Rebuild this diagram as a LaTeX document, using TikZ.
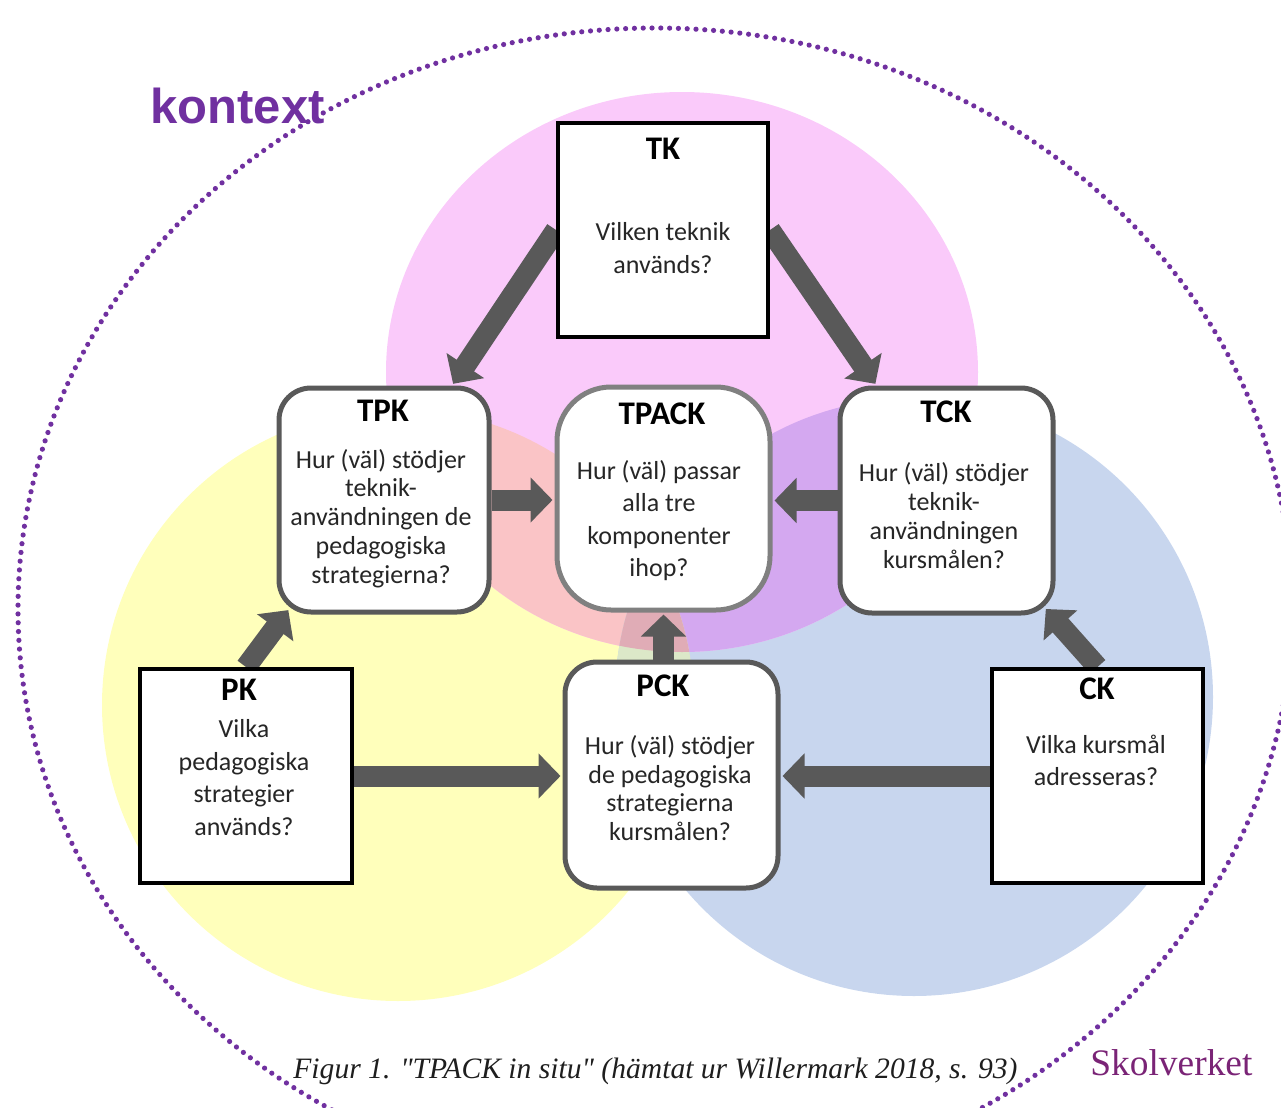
\documentclass[tikz,border=0pt]{standalone}
\usepackage{fontspec}
\setmainfont{Carlito}
\newfontfamily\serifcap{Liberation Serif}
\newfontfamily\sanskont{Liberation Sans}
\usetikzlibrary{arrows.meta,calc,backgrounds}
\definecolor{pinkc}{RGB}{250,202,250}
\definecolor{yellowc}{RGB}{255,255,187}
\definecolor{bluec}{RGB}{200,214,238}
\definecolor{salmonc}{RGB}{250,196,198}
\definecolor{purplec}{RGB}{212,168,240}
\definecolor{triplec}{RGB}{224,172,182}
\definecolor{ybc}{RGB}{220,232,200}
\definecolor{kpurple}{RGB}{112,48,160}
\definecolor{skpurple}{RGB}{122,36,118}
\definecolor{boxgray}{RGB}{89,89,89}
\definecolor{tgray}{RGB}{128,128,128}
\definecolor{arrowgray}{RGB}{89,89,89}
\definecolor{bodytext}{RGB}{38,38,38}
\definecolor{capgray}{RGB}{30,30,30}
\begin{document}
\begin{tikzpicture}[x=0.5pt,y=-0.5pt,
  sqbox/.style={rectangle,draw=black,line width=2pt,fill=white,inner sep=0pt},
  rbox/.style={rectangle,draw=boxgray,line width=2.5pt,fill=white,rounded corners=16pt,inner sep=0pt},
  tbox/.style={rectangle,draw=tgray,line width=2.5pt,fill=white,rounded corners=27pt,inner sep=0pt},
  ttl/.style={inner sep=0pt,font=\bfseries\fontsize{16.5}{18}\selectfont,text=black},
  body/.style={inner sep=0pt,align=center,text=bodytext},
  flow/.style={draw=arrowgray,line width=10.5pt,shorten >=1pt,-{Triangle[length=11pt,width=22pt]}}]
\useasboundingbox (0,0) rectangle (1281,1108);

% boxes
\node[sqbox,minimum width=105pt,minimum height=107pt] (TK) at (663,230) {};
\node[rbox,minimum width=105pt,minimum height=112pt] (TPK) at (384,500) {};
\node[tbox,minimum width=106.5pt,minimum height=111.5pt] (TPACK) at (663.5,498.5) {};
\node[rbox,minimum width=106.5pt,minimum height=112.5pt] (TCK) at (946.5,500.5) {};
\node[sqbox,minimum width=106pt,minimum height=107pt] (PK) at (246,776) {};
\node[rbox,minimum width=106.5pt,minimum height=113pt] (PCK) at (671.5,775) {};
\node[sqbox,minimum width=105.5pt,minimum height=107pt] (CK) at (1097.5,776) {};

% titles
\node[ttl] (tTK) at (663,149) {TK};
\node[ttl] (tTPK) at (383,411) {TPK};
\node[ttl] (tTPACK) at (662,414) {TPACK};
\node[ttl] (tTCK) at (946,412) {TCK};
\node[ttl] (tPK) at (239,690) {PK};
\node[ttl] (tPCK) at (663,686) {PCK};
\node[ttl] (tCK) at (1097,689) {CK};

% bodies
\node[body,font=\fontsize{13}{16.5}\selectfont] (bTK) at (663,248.5) {Vilken teknik\\används?};
\node[body,font=\fontsize{13}{14.4}\selectfont] (bTPK) at (381,518.5) {Hur (väl) stödjer\\teknik-\\användningen de\\pedagogiska\\strategierna?};
\node[body,font=\fontsize{13}{16.2}\selectfont] (bTPACK) at (659,520.5) {Hur (väl) passar\\alla tre\\komponenter\\ihop?};
\node[body,font=\fontsize{13}{14.5}\selectfont] (bTCK) at (944,516) {Hur (väl) stödjer\\teknik-\\användningen\\kursmålen?};
\node[body,font=\fontsize{13}{16.2}\selectfont] (bPK) at (244,777.5) {Vilka\\pedagogiska\\strategier\\används?};
\node[body,font=\fontsize{13}{14.4}\selectfont] (bPCK) at (670,788) {Hur (väl) stödjer\\de pedagogiska\\strategierna\\kursmålen?};
\node[body,font=\fontsize{13}{16}\selectfont] (bCK) at (1096,760) {Vilka kursmål\\adresseras?};

% labels
\node[anchor=base west,inner sep=0pt,font=\sanskont\bfseries\fontsize{24.5}{28}\selectfont,text=kpurple] (kontext) at (150,123) {kontext};
\node[anchor=base west,inner sep=0pt,font=\serifcap\itshape\fontsize{14.8}{17}\selectfont,text=capgray] (caption) at (293,1078) {Figur 1. "TPACK in situ" (hämtat ur Willermark 2018, s. 93)};
\node[anchor=base west,inner sep=0pt,font=\serifcap\fontsize{18.7}{21}\selectfont,text=skpurple] (skolverket) at (1090,1075) {Skolverket};

\begin{pgfonlayer}{background}
  % circles
  \fill[yellowc] (398,705) circle[radius=296];
  \fill[bluec] (914,697) circle[radius=299];
  \fill[pinkc] (682,372) ellipse[x radius=296,y radius=280];
  \begin{scope}
    \clip (398,705) circle[radius=296];
    \fill[salmonc] (682,372) ellipse[x radius=296,y radius=280];
  \end{scope}
  \begin{scope}
    \clip (914,697) circle[radius=299];
    \fill[purplec] (682,372) ellipse[x radius=296,y radius=280];
  \end{scope}
  \begin{scope}
    \clip (398,705) circle[radius=296];
    \clip (914,697) circle[radius=299];
    \fill[ybc] (590,380) rectangle (720,1010);
    \fill[triplec] (682,372) ellipse[x radius=296,y radius=280];
  \end{scope}
  % context ellipse
  \begin{scope}
    \clip (0,0) rectangle (1281,1108);
    \draw[kpurple,line width=2.6pt,line cap=round,dash pattern=on 0pt off 4.4pt] (655,609) ellipse[x radius=637,y radius=581];
  \end{scope}
  % arrows
  \draw[flow] (TK.west) -- ($(TPK.north)+(68,0)$);
  \draw[flow] (TK.east) -- ($(TCK.north)+(-70,0)$);
  \draw[flow] (TPK.east) -- (TPK.east -| TPACK.west);
  \draw[flow] (TCK.west) -- (TCK.west -| TPACK.east);
  \draw[flow] (PCK.north -| TPACK.south) -- (TPACK.south);
  \draw[flow] (PK.north) -- ($(TPK.south west)+(13,-6)$);
  \draw[flow] (CK.north) -- ($(TCK.south east)+(-11,-8)$);
  \draw[flow] (PK.east) -- (PK.east -| PCK.west);
  \draw[flow] (CK.west) -- (CK.west -| PCK.east);
\end{pgfonlayer}
\end{tikzpicture}
\end{document}
